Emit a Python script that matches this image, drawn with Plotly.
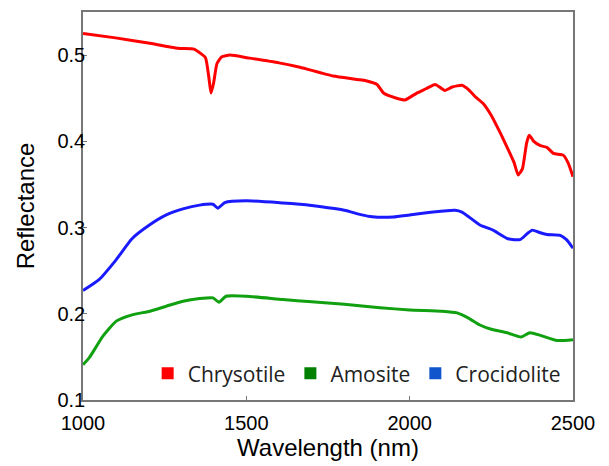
import plotly.graph_objects as go

# Chrysotile
chry_wl = [1000, 1100, 1200, 1290, 1340, 1360, 1375, 1385, 1392, 1400, 1410, 1425, 1450, 1510,
           1600, 1664, 1766, 1869, 1900, 1920, 1960, 1985, 2022, 2050, 2078, 2095, 2108, 2130,
           2160, 2180, 2200, 2225, 2250, 2277, 2307, 2320, 2332, 2345, 2358, 2366, 2380, 2400,
           2420, 2440, 2470, 2485, 2500]
chry_r = [0.525, 0.520, 0.514, 0.508, 0.507, 0.502, 0.497, 0.475, 0.456, 0.468, 0.490, 0.498,
          0.500, 0.4965, 0.491, 0.486, 0.4757, 0.470, 0.466, 0.456, 0.450, 0.448, 0.456, 0.461,
          0.466, 0.462, 0.459, 0.463, 0.465, 0.460, 0.452, 0.444, 0.430, 0.410, 0.386, 0.375,
          0.361, 0.368, 0.398, 0.407, 0.400, 0.395, 0.393, 0.386, 0.384, 0.375, 0.359]

# Amosite
amo_wl = [1000, 1020, 1061, 1102, 1153, 1205, 1255, 1306, 1357, 1398, 1416, 1438, 1500, 1612,
          1700, 1800, 1909, 2000, 2100, 2145, 2180, 2215, 2250, 2298, 2341, 2368, 2400, 2451, 2500]
amo_r = [0.141, 0.1495, 0.174, 0.1915, 0.199, 0.203, 0.2088, 0.2146, 0.2177, 0.2185, 0.2134,
         0.2203, 0.2203, 0.2165, 0.214, 0.211, 0.207, 0.2045, 0.203, 0.201, 0.195, 0.187, 0.182,
         0.178, 0.173, 0.178, 0.175, 0.169, 0.170]

# Crocidolite
cro_wl = [1000, 1050, 1100, 1150, 1200, 1255, 1306, 1357, 1398, 1413, 1434, 1500, 1612, 1664,
          1700, 1800, 1850, 1885, 1950, 2000, 2072, 2139, 2160, 2215, 2255, 2301, 2338, 2360,
          2375, 2400, 2420, 2461, 2480, 2500]
cro_r = [0.227, 0.240, 0.262, 0.287, 0.302, 0.3146, 0.3216, 0.326, 0.327, 0.3225, 0.329, 0.331,
         0.3285, 0.327, 0.3255, 0.320, 0.315, 0.3125, 0.3122, 0.3146, 0.318, 0.320, 0.318, 0.303,
         0.297, 0.287, 0.286, 0.293, 0.297, 0.294, 0.292, 0.291, 0.286, 0.276]

names = ["Chrysotile", "Amosite", "Crocidolite"]
line_colors = ["#ff0000", "#10a010", "#1a1aff"]
legend_colors = ["#ff0000", "#008000", "#1155cc"]

x_ticks = [1000, 1500, 2000, 2500]
y_ticks = [0.1, 0.2, 0.3, 0.4, 0.5]

fig = go.Figure()
for wl, r, c in zip([chry_wl, amo_wl, cro_wl], [chry_r, amo_r, cro_r], line_colors):
    fig.add_trace(go.Scatter(x=wl, y=r, mode="lines",
                             line=dict(color=c, width=3, shape="spline", smoothing=0.5),
                             showlegend=False, hoverinfo="skip"))
for n, c in zip(names, legend_colors):
    fig.add_trace(go.Scatter(x=[None], y=[None], mode="markers", name=n,
                             marker=dict(symbol="square", size=14, color=c)))

axis_font = "Liberation Sans, Arial"
axis_common = dict(showgrid=False, zeroline=False, showline=True, linecolor="#777777",
                   linewidth=1.5, mirror=True, ticks="inside", ticklen=4, tickcolor="#777777",
                   automargin=False,
                   tickfont=dict(family=axis_font, size=20, color="black"))

fig.update_xaxes(range=[1000, 2500], tickvals=x_ticks, ticktext=[str(v) for v in x_ticks],
                 ticklabelstandoff=4,
                 title=dict(text="Wavelength (nm)", font=dict(family=axis_font, size=24, color="black"), standoff=6),
                 **axis_common)
fig.update_yaxes(range=[0.1, 0.55], tickvals=y_ticks, ticktext=[f"{v:.1f}" for v in y_ticks],
                 ticklabelstandoff=-8,
                 title=dict(text="Reflectance", font=dict(family=axis_font, size=24, color="black"), standoff=16),
                 **axis_common)

fig.update_layout(
    width=609, height=466,
    margin=dict(l=75, r=44, t=4, b=74),
    plot_bgcolor="white", paper_bgcolor="white",
    legend=dict(orientation="h", x=0.985, xanchor="right", y=0.015, yanchor="bottom",
                bgcolor="white", font=dict(family="Open Sans, Noto Sans", size=21, color="#222222"),
                itemsizing="constant", itemwidth=30, tracegroupgap=0),
)

fig.write_html("out.html")
